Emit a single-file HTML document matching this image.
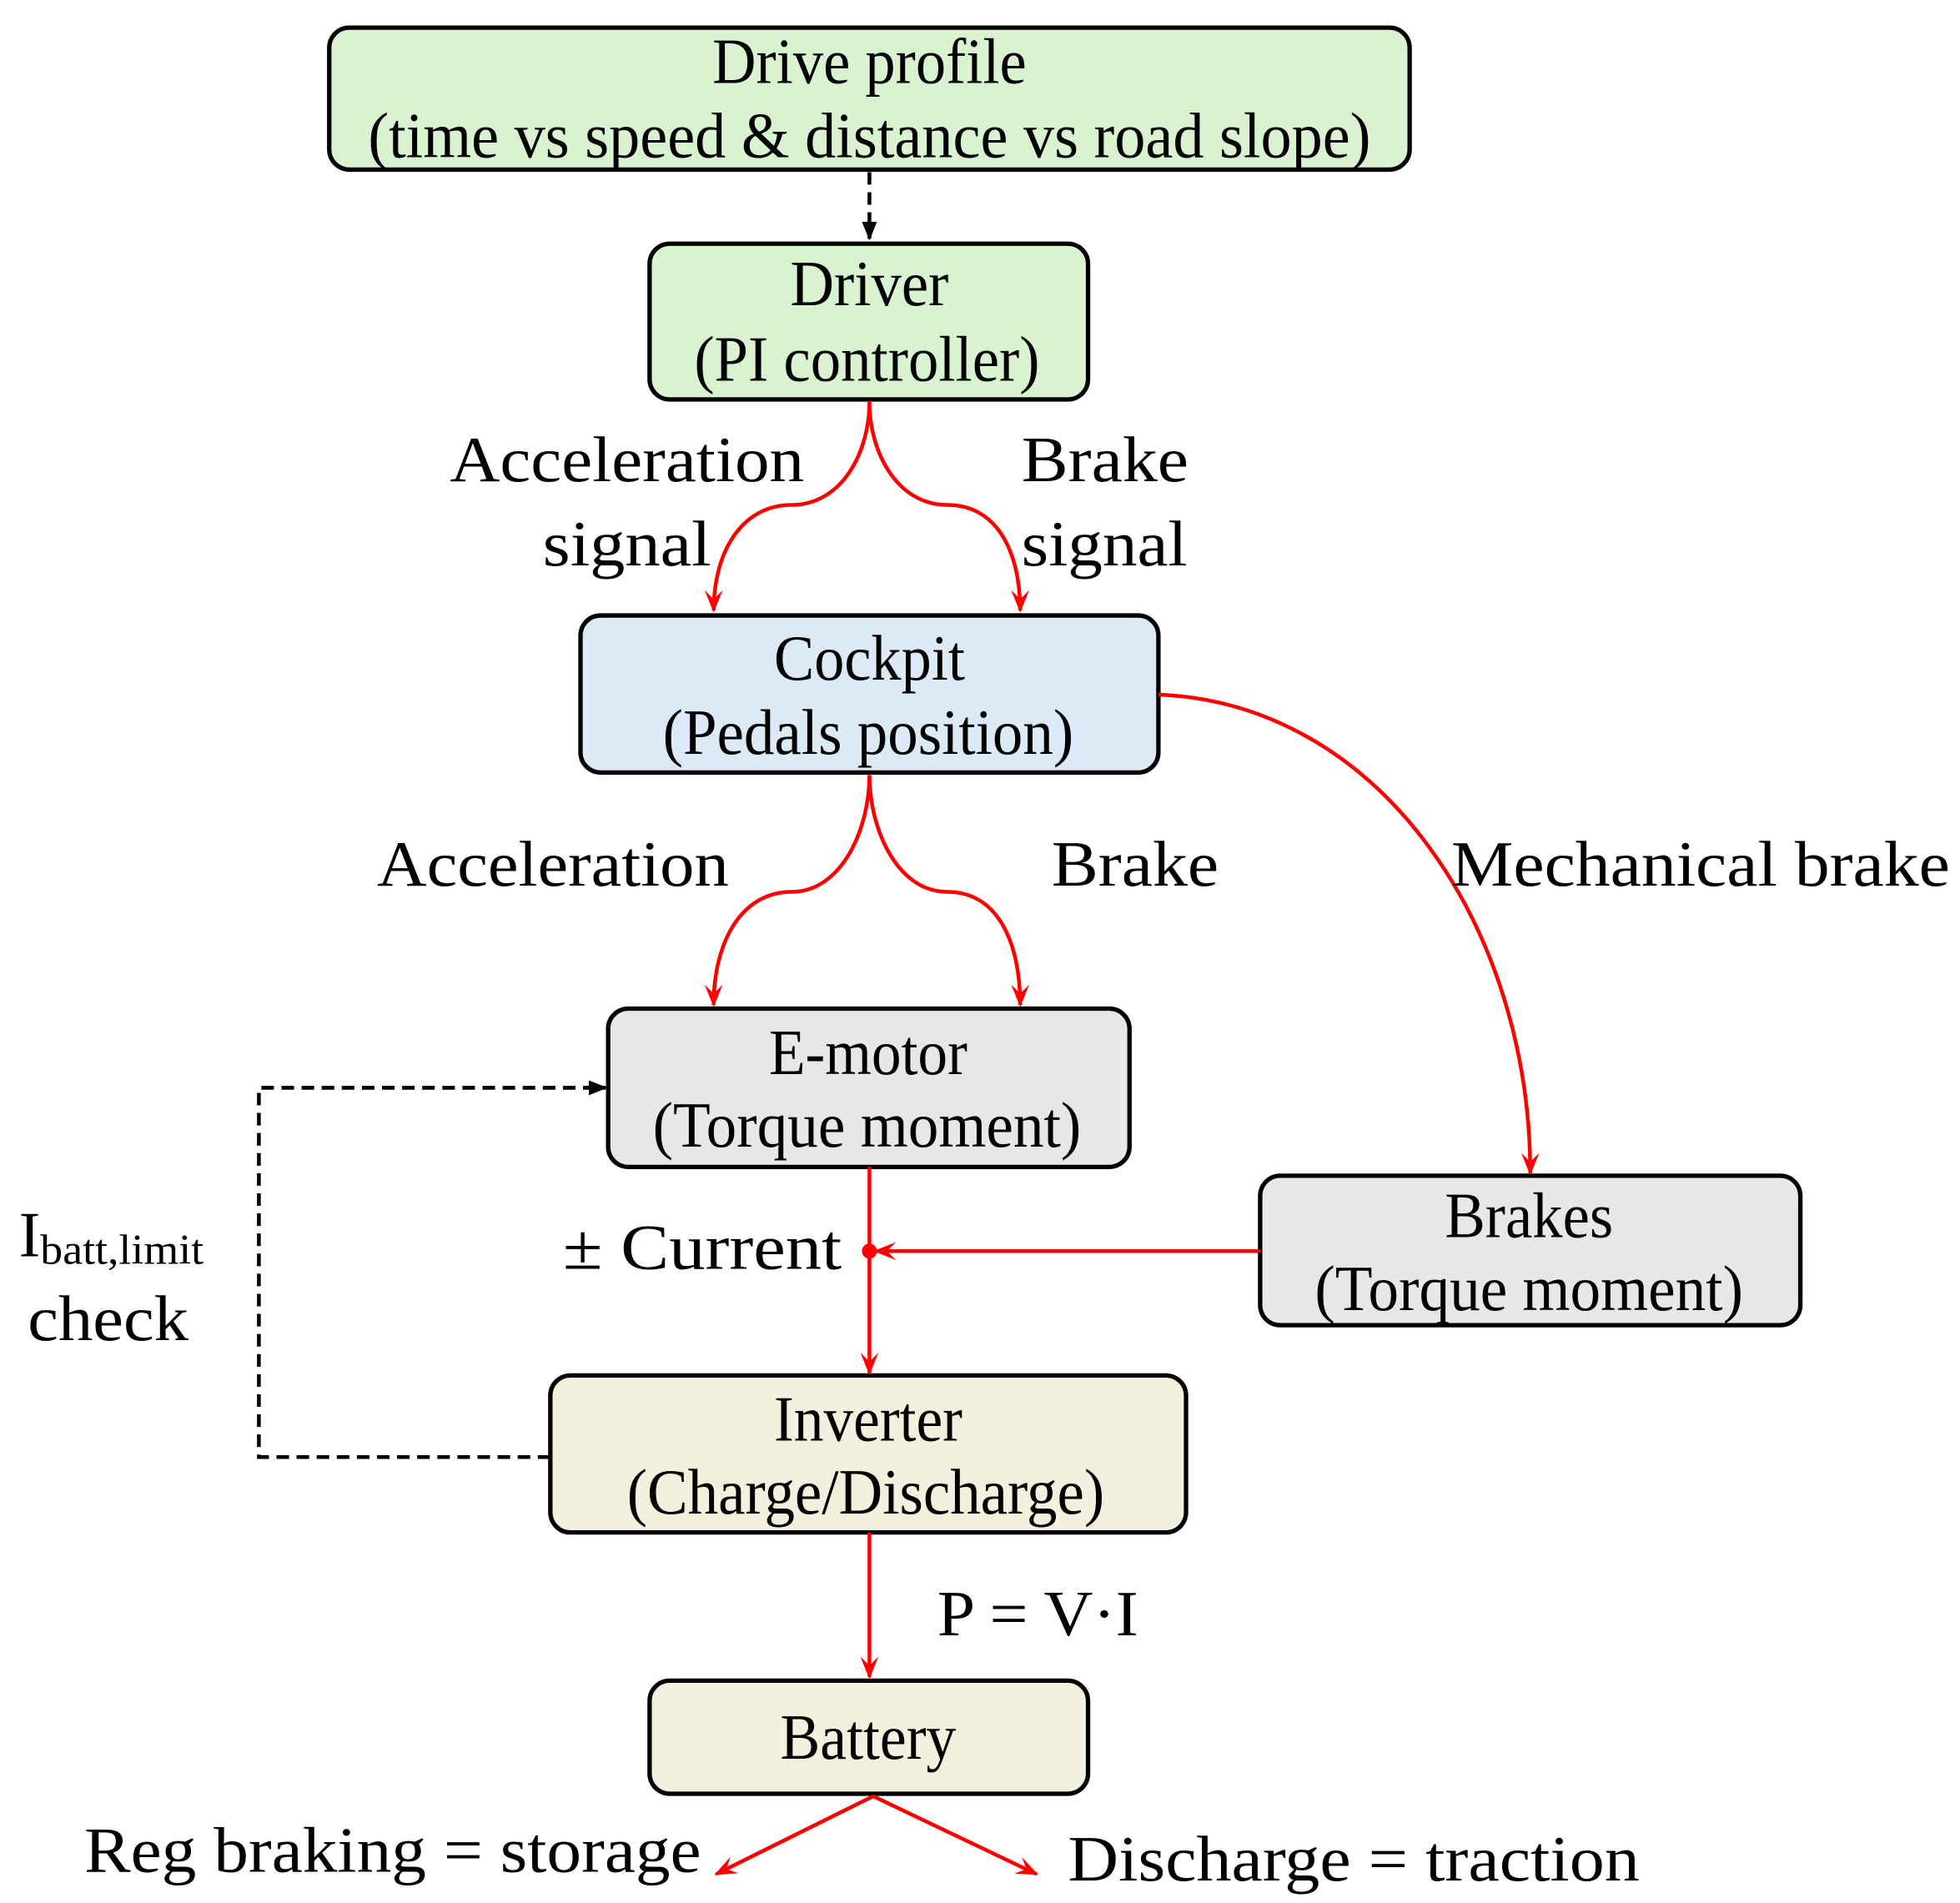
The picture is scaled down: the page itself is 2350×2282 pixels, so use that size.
<!DOCTYPE html>
<html><head><meta charset="utf-8"><style>html,body{margin:0;padding:0;background:#fff}svg{display:block}</style></head>
<body>
<svg width="2350" height="2282" viewBox="0 0 1560 1515" xmlns="http://www.w3.org/2000/svg" font-family="'Liberation Serif', serif" font-size="51" fill="#000">
<defs>
<marker id="ar" viewBox="0 0 10 10" refX="9" refY="5" markerWidth="18" markerHeight="18" orient="auto" markerUnits="userSpaceOnUse"><path d="M0,1 L10,5 L0,9 L4,5 z" fill="#f00"/></marker>
<marker id="ab" viewBox="0 0 10 10" refX="9" refY="5" markerWidth="15" markerHeight="15" orient="auto" markerUnits="userSpaceOnUse"><path d="M0,1 L10,5 L0,9 z" fill="#000"/></marker>
</defs>
<g stroke="#000" stroke-width="3.5">
<rect x="262" y="22" width="860" height="113" rx="16" fill="#d9f2d0"/>
<rect x="517" y="194" width="349" height="124" rx="16" fill="#d9f2d0"/>
<rect x="462" y="490" width="460" height="125" rx="16" fill="#dce9f6"/>
<rect x="484" y="803" width="415" height="126" rx="16" fill="#e7e7e7"/>
<rect x="1003" y="936" width="430" height="119" rx="16" fill="#e7e7e7"/>
<rect x="438" y="1095" width="506" height="125" rx="16" fill="#f3f0de"/>
<rect x="517" y="1338" width="349" height="90" rx="16" fill="#f3f0de"/>
</g>
<g stroke="#000" stroke-width="3" fill="none" stroke-dasharray="10,6">
<path d="M692,137 V190" marker-end="url(#ab)"/>
<path d="M438,1160 H206 V866 H482" marker-end="url(#ab)"/>
</g>
<g stroke="#f00" stroke-width="3" fill="none">
<path d="M692,320 C692,360 670,402 630,402 C590,402 568,440 568,486" marker-end="url(#ar)"/>
<path d="M692,320 C692,360 714,402 754,402 C794,402 812,440 812,486" marker-end="url(#ar)"/>
<path d="M692,617 C692,660 670,710 630,710 C590,710 568,750 568,800" marker-end="url(#ar)"/>
<path d="M692,617 C692,660 714,710 754,710 C794,710 812,750 812,800" marker-end="url(#ar)"/>
<path d="M922,553 C1100,560 1218,740 1218,934" marker-end="url(#ar)"/>
<path d="M692,929 V1093" marker-end="url(#ar)"/>
<path d="M1003,996 H697" marker-end="url(#ar)"/>
<path d="M692,1220 V1335" marker-end="url(#ar)"/>
<path d="M695,1430 L570,1492" marker-end="url(#ar)"/>
<path d="M695,1430 L825,1492" marker-end="url(#ar)"/>
</g>
<circle cx="692" cy="996" r="6" fill="#f00"/>
<g text-anchor="middle">
<text x="692" y="66" textLength="250" lengthAdjust="spacingAndGlyphs">Drive profile</text>
<text x="692" y="125" textLength="798" lengthAdjust="spacingAndGlyphs">(time vs speed &amp; distance vs road slope)</text>
<text x="692" y="243" textLength="126" lengthAdjust="spacingAndGlyphs">Driver</text>
<text x="690" y="303" textLength="275" lengthAdjust="spacingAndGlyphs">(PI controller)</text>
<text x="692" y="541" textLength="152" lengthAdjust="spacingAndGlyphs">Cockpit</text>
<text x="691" y="600" textLength="327" lengthAdjust="spacingAndGlyphs">(Pedals position)</text>
<text x="691" y="855" textLength="158" lengthAdjust="spacingAndGlyphs">E-motor</text>
<text x="690" y="913" textLength="341" lengthAdjust="spacingAndGlyphs">(Torque moment)</text>
<text x="1217" y="985" textLength="134" lengthAdjust="spacingAndGlyphs">Brakes</text>
<text x="1217" y="1043" textLength="341" lengthAdjust="spacingAndGlyphs">(Torque moment)</text>
<text x="691" y="1147" textLength="150" lengthAdjust="spacingAndGlyphs">Inverter</text>
<text x="689" y="1205" textLength="380" lengthAdjust="spacingAndGlyphs">(Charge/Discharge)</text>
<text x="691" y="1400" textLength="140" lengthAdjust="spacingAndGlyphs">Battery</text>
</g>
<g>
<text x="358" y="383" textLength="282" lengthAdjust="spacingAndGlyphs">Acceleration</text>
<text x="432" y="450" textLength="134" lengthAdjust="spacingAndGlyphs">signal</text>
<text x="813" y="383" textLength="133" lengthAdjust="spacingAndGlyphs">Brake</text>
<text x="813" y="450" textLength="132" lengthAdjust="spacingAndGlyphs">signal</text>
<text x="300" y="705" textLength="280" lengthAdjust="spacingAndGlyphs">Acceleration</text>
<text x="837" y="705" textLength="133" lengthAdjust="spacingAndGlyphs">Brake</text>
<text x="1155" y="705" textLength="397" lengthAdjust="spacingAndGlyphs">Mechanical brake</text>
<text x="15" y="1000">I<tspan font-size="34" dy="6" textLength="130" lengthAdjust="spacingAndGlyphs">batt,limit</tspan></text>
<text x="22" y="1067" textLength="128" lengthAdjust="spacingAndGlyphs">check</text>
<text x="448" y="1010" textLength="222" lengthAdjust="spacingAndGlyphs">± Current</text>
<text x="746" y="1302" textLength="160" lengthAdjust="spacingAndGlyphs">P = V·I</text>
<text x="67" y="1490" textLength="491" lengthAdjust="spacingAndGlyphs">Reg braking = storage</text>
<text x="850" y="1497" textLength="455" lengthAdjust="spacingAndGlyphs">Discharge = traction</text>
</g>
</svg>
</body></html>
